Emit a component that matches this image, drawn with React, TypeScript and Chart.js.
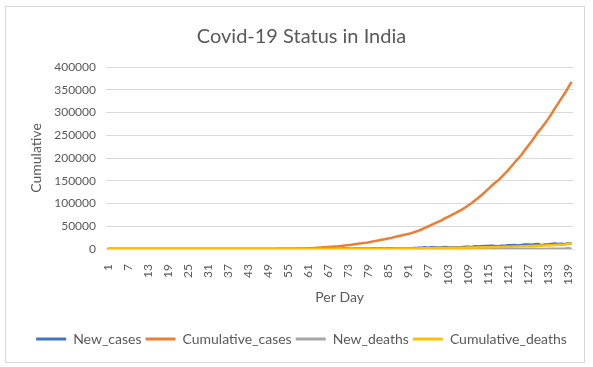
import React, { useEffect, useRef } from "react";
import { Chart, registerables } from "chart.js";

Chart.register(...registerables);

// Day numbers along the category axis (day 1 = 30 Jan 2020)
const dayLabels: string[] = [
  "1","2","3","4","5","6","7","8","9","10","11","12","13","14","15","16","17","18","19","20",
  "21","22","23","24","25","26","27","28","29","30","31","32","33","34","35","36","37","38","39","40",
  "41","42","43","44","45","46","47","48","49","50","51","52","53","54","55","56","57","58","59","60",
  "61","62","63","64","65","66","67","68","69","70","71","72","73","74","75","76","77","78","79","80",
  "81","82","83","84","85","86","87","88","89","90","91","92","93","94","95","96","97","98","99","100",
  "101","102","103","104","105","106","107","108","109","110","111","112","113","114","115","116","117","118","119","120",
  "121","122","123","124","125","126","127","128","129","130","131","132","133","134","135","136","137","138","139","140",
];

const newCases: number[] = [
  1, 0, 0, 1, 1, 0, 0, 0, 0, 0, 0, 0, 0, 0, 0, 0, 0, 0, 0, 0,
  0, 0, 0, 0, 0, 0, 0, 0, 0, 0, 0, 0, 2, 1, 22, 2, 1, 3, 5, 9,
  15, 8, 10, 10, 11, 10, 14, 25, 20, 31, 59, 81, 89, 102, 74, 86, 88, 153, 136, 120,
  187, 309, 424, 486, 560, 579, 609, 484, 573, 565, 813, 871, 854, 758, 1243, 1031, 886, 1061, 922, 1371,
  1580, 1239, 1537, 1292, 1667, 1408, 1835, 1607, 1568, 1902, 1705, 1801, 2396, 2564, 2952, 3656, 2971, 3602, 3344, 3339,
  3175, 4311, 3592, 3562, 3726, 3991, 3808, 4794, 5049, 4630, 6147, 5553, 6198, 6568, 6629, 7111, 6414, 5843, 7293, 7300,
  8105, 8380, 8789, 7723, 8821, 9633, 9839, 9471, 10438, 10864, 8536, 9981, 9985, 10956, 12023, 11157, 11502, 10667, 12881, 12000,
];

const cumulativeCases: number[] = [
  1, 1, 1, 2, 3, 3, 3, 3, 3, 3, 3, 3, 3, 3, 3, 3, 3, 3, 3, 3,
  3, 3, 3, 3, 3, 3, 3, 3, 3, 3, 3, 3, 5, 6, 28, 30, 31, 34, 39, 48,
  63, 71, 81, 91, 102, 112, 126, 151, 171, 202, 261, 342, 431, 533, 607, 693, 781, 934, 1070, 1190,
  1377, 1686, 2110, 2596, 3156, 3735, 4344, 4828, 5401, 5966, 6779, 7650, 8504, 9262, 10505, 11536, 12422, 13483, 14405, 15776,
  17356, 18595, 20132, 21424, 23091, 24499, 26334, 27941, 29509, 31411, 33116, 34917, 37313, 39877, 42829, 46485, 49456, 53058, 56402, 59741,
  62916, 67227, 70819, 74381, 78107, 82098, 85906, 90700, 95749, 100379, 106526, 112079, 118277, 124845, 131474, 138585, 144999, 150842, 158135, 165435,
  173540, 181920, 190709, 198432, 207253, 216886, 226725, 236196, 246634, 257498, 266034, 276015, 286000, 296956, 308979, 320136, 331638, 342305, 355186, 367186,
];

const newDeaths: number[] = [
  0, 0, 0, 0, 0, 0, 0, 0, 0, 0, 0, 0, 0, 0, 0, 0, 0, 0, 0, 0,
  0, 0, 0, 0, 0, 0, 0, 0, 0, 0, 0, 0, 0, 0, 0, 0, 0, 0, 0, 0,
  0, 0, 1, 1, 0, 0, 0, 1, 0, 1, 1, 0, 3, 2, 1, 2, 4, 4, 3, 5,
  5, 9, 6, 15, 14, 17, 19, 19, 27, 27, 32, 33, 35, 40, 35, 39, 39, 32, 36, 42,
  37, 46, 46, 50, 43, 50, 48, 51, 52, 58, 62, 61, 77, 92, 73, 195, 127, 90, 104, 96,
  114, 111, 87, 122, 134, 100, 103, 120, 153, 136, 134, 132, 140, 142, 137, 156, 146, 170, 194, 175,
  265, 193, 230, 200, 204, 260, 273, 286, 298, 261, 266, 274, 357, 396, 386, 311, 325, 380, 2003, 341,
];

const cumulativeDeaths: number[] = [
  0, 0, 0, 0, 0, 0, 0, 0, 0, 0, 0, 0, 0, 0, 0, 0, 0, 0, 0, 0,
  0, 0, 0, 0, 0, 0, 0, 0, 0, 0, 0, 0, 0, 0, 0, 0, 0, 0, 0, 0,
  0, 0, 1, 2, 2, 2, 2, 3, 3, 4, 5, 5, 8, 10, 11, 13, 17, 21, 24, 29,
  34, 43, 49, 64, 78, 95, 114, 133, 160, 187, 219, 252, 287, 327, 362, 401, 440, 472, 508, 550,
  587, 633, 679, 729, 772, 822, 870, 921, 973, 1031, 1093, 1154, 1231, 1323, 1396, 1591, 1718, 1808, 1912, 2008,
  2122, 2233, 2320, 2442, 2576, 2676, 2779, 2899, 3052, 3188, 3322, 3454, 3594, 3736, 3873, 4029, 4175, 4345, 4539, 4714,
  4979, 5172, 5402, 5602, 5806, 6066, 6339, 6625, 6923, 7184, 7450, 7724, 8081, 8477, 8863, 9174, 9499, 9879, 11882, 12223,
];

const seriesNames: string[] = ["New_cases", "Cumulative_cases", "New_deaths", "Cumulative_deaths"];
const seriesColors: string[] = ["#4472C4", "#ED7D31", "#A5A5A5", "#FFC000"];

const yTicks = { min: 0, max: 400000, step: 50000 };
const labelEvery = 6;

const W = 593;
const H = 367;
const FONT = "Lato, 'Open Sans', sans-serif";
const TEXT = "#595959";
const GRID = "#d9d9d9";

// White page plus the light frame around the whole chart
const framePlugin = {
  id: "frame",
  beforeDraw(chart: Chart) {
    const ctx = chart.ctx;
    ctx.save();
    ctx.fillStyle = "#ffffff";
    ctx.fillRect(0, 0, chart.width, chart.height);
    ctx.strokeStyle = GRID;
    ctx.lineWidth = 1;
    ctx.strokeRect(5.5, 6.5, 579, 356);
    ctx.restore();
  },
};

export default function App() {
  const canvasRef = useRef<HTMLCanvasElement | null>(null);

  useEffect(() => {
    const canvas = canvasRef.current;
    if (!canvas) return;
    const values = [newCases, cumulativeCases, newDeaths, cumulativeDeaths];
    const chart = new Chart(canvas, {
      type: "line",
      data: {
        labels: dayLabels,
        datasets: seriesNames.map((name, i) => ({
          label: name,
          data: values[i],
          borderColor: seriesColors[i],
          backgroundColor: seriesColors[i],
          borderWidth: 2.5,
          pointRadius: 0,
          fill: false,
          tension: 0,
          // later series are painted over earlier ones
          order: seriesNames.length - i,
        })),
      },
      options: {
        animation: false,
        responsive: false,
        devicePixelRatio: 1,
        layout: { padding: { left: 24, right: 14, top: 0, bottom: 11 } },
        plugins: {
          tooltip: { enabled: false },
          title: {
            display: true,
            text: "Covid-19 Status in India",
            color: TEXT,
            font: { family: FONT, size: 20, weight: "normal" },
            padding: { top: 25, bottom: 18 },
          },
          legend: {
            position: "bottom",
            labels: {
              color: TEXT,
              font: { family: FONT, size: 14 },
              boxWidth: 30,
              boxHeight: 3,
              padding: 4,
              generateLabels: (c: Chart) =>
                Chart.defaults.plugins.legend.labels
                  .generateLabels(c)
                  .map((l: any) => ({ ...l, lineWidth: 0 }))
                  .sort((a: any, b: any) => a.datasetIndex - b.datasetIndex),
            },
          },
        },
        scales: {
          x: {
            type: "category",
            offset: true,
            grid: { display: false },
            border: { display: true, color: GRID },
            afterFit: (scale: any) => {
              scale.height = 79;
            },
            ticks: {
              autoSkip: false,
              minRotation: 90,
              maxRotation: 90,
              padding: 7,
              color: TEXT,
              font: { family: FONT, size: 12 },
              callback: (_v: any, idx: number) => (idx % labelEvery === 0 ? dayLabels[idx] : ""),
            },
            title: {
              display: true,
              text: "Per Day",
              color: TEXT,
              font: { family: FONT, size: 14 },
              padding: { top: 4, bottom: 22 },
            },
          },
          y: {
            min: yTicks.min,
            max: yTicks.max,
            afterFit: (scale: any) => {
              scale.width = 82;
            },
            grid: { color: GRID, drawTicks: false },
            border: { display: false },
            ticks: {
              stepSize: yTicks.step,
              padding: 10,
              color: TEXT,
              font: { family: FONT, size: 12 },
              callback: (v: any) => String(v),
            },
            title: {
              display: true,
              text: "Cumulative",
              color: TEXT,
              font: { family: FONT, size: 14 },
              padding: { top: 4, bottom: 4 },
            },
          },
        },
      },
      plugins: [framePlugin],
    });
    return () => chart.destroy();
  }, []);

  return (
    <div style={{ position: "fixed", left: 0, top: 0, width: W, height: H, background: "#fff" }}>
      <canvas ref={canvasRef} width={W} height={H} style={{ display: "block" }} />
    </div>
  );
}
